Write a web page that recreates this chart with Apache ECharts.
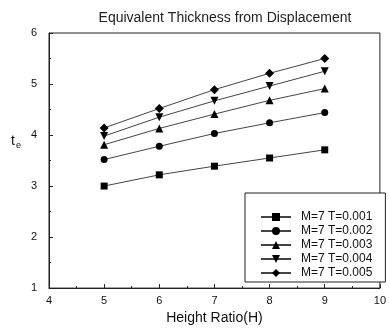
<!DOCTYPE html>
<html><head><meta charset="utf-8">
<script src="https://cdn.jsdelivr.net/npm/echarts@6/dist/echarts.min.js"></script>
<style>html,body{margin:0;padding:0;background:#fff}#c{width:389px;height:330px}</style>
</head><body><div id="c"></div>
<script>
const xValues = [5, 6, 7, 8, 9];
const seriesNames = ['M=7 T=0.001', 'M=7 T=0.002', 'M=7 T=0.003', 'M=7 T=0.004', 'M=7 T=0.005'];
const t001 = [3.00, 3.22, 3.39, 3.55, 3.71];
const t002 = [3.52, 3.78, 4.03, 4.24, 4.44];
const t003 = [3.81, 4.13, 4.41, 4.68, 4.91];
const t004 = [3.98, 4.35, 4.67, 4.96, 5.25];
const t005 = [4.14, 4.52, 4.89, 5.21, 5.50];
const allValues = [t001, t002, t003, t004, t005];
const symbols = ['rect', 'circle', 'triangle', 'triangle', 'diamond'];
const rotations = [0, 0, 0, 180, 0];
const sizes = [7, 7, 8, 8, 9];

const chart = echarts.init(document.getElementById('c'));
const font = 'Liberation Sans, Arial, sans-serif';
const series = allValues.map((vals, i) => ({
  name: seriesNames[i],
  type: 'line',
  data: xValues.map((x, j) => [x, vals[j]]),
  symbol: symbols[i],
  symbolRotate: rotations[i],
  symbolSize: sizes[i],
  showAllSymbol: true,
  lineStyle: { color: '#444', width: 1 },
  itemStyle: { color: '#000' },
  emphasis: { disabled: true }
}));
chart.setOption({
  animation: false,
  backgroundColor: '#fff',
  title: {
    text: 'Equivalent Thickness from Displacement',
    left: 220, top: 6, textAlign: 'center',
    textStyle: { fontFamily: font, fontSize: 14, fontWeight: 'normal', color: '#222' }
  },
  grid: { left: 49, right: 6, top: 33, bottom: 36, show: true, borderColor: '#222', borderWidth: 1 },
  legend: {
    orient: 'vertical',
    left: 245, bottom: 48,
    padding: [18, 13, 3, 15],
    itemGap: 2,
    itemWidth: 30, itemHeight: 10,
    borderColor: '#222', borderWidth: 1, backgroundColor: '#fff',
    textStyle: { fontFamily: font, fontSize: 12, color: '#111', padding: [0, 0, 0, 5] },
    data: seriesNames
  },
  xAxis: {
    type: 'value', min: 4, max: 10, interval: 1,
    name: 'Height Ratio(H)', nameLocation: 'middle', nameGap: 22,
    nameTextStyle: { fontFamily: font, fontSize: 14, color: '#111' },
    axisLine: { onZero: false, lineStyle: { color: '#222' } },
    axisTick: { inside: true, length: 4, lineStyle: { color: '#222' } },
    minorTick: { show: true, splitNumber: 2, length: 2, lineStyle: { color: '#222' } },
    axisLabel: { fontFamily: font, fontSize: 11, color: '#111', margin: 7 },
    splitLine: { show: false }
  },
  yAxis: {
    type: 'value', min: 1, max: 6, interval: 1,
    name: '{t|t}{e|e}', nameLocation: 'middle', nameGap: 28, nameRotate: 0,
    nameTextStyle: { padding: [0, 0, 38, 0], rich: { t: { fontFamily: font, fontSize: 14, color: '#111' }, e: { fontFamily: font, fontSize: 9, color: '#111', verticalAlign: 'bottom', padding: [8, 0, 0, 1] } } },
    axisLine: { onZero: false, lineStyle: { color: '#222' } },
    axisTick: { inside: true, length: 4, lineStyle: { color: '#222' } },
    minorTick: { show: true, splitNumber: 2, length: 2, lineStyle: { color: '#222' } },
    axisLabel: { fontFamily: font, fontSize: 11, color: '#111', margin: 12 },
    splitLine: { show: false }
  },
  series: series
});
</script></body></html>
